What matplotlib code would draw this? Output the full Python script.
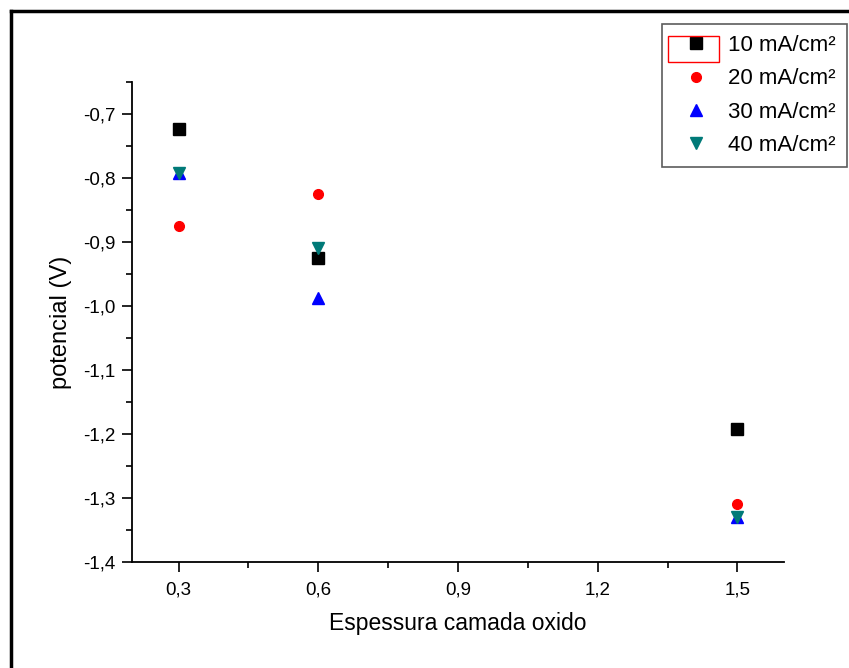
import numpy as np
import matplotlib
matplotlib.use("Agg")
import matplotlib.pyplot as plt
from matplotlib.ticker import MultipleLocator, FuncFormatter
from matplotlib.patches import Rectangle
from matplotlib.lines import Line2D

plt.rcParams['font.family'] = ['Liberation Sans', 'DejaVu Sans']

# espessura da camada de oxido
espessura = [0.3, 0.6, 1.5]
# potencial (V) para cada densidade de corrente
pot_10 = [-0.723, -0.925, -1.192]
pot_20 = [-0.875, -0.825, -1.309]
pot_30 = [-0.792, -0.987, -1.330]
pot_40 = [-0.792, -0.909, -1.330]
rotulos = ["10 mA/cm²", "20 mA/cm²", "30 mA/cm²", "40 mA/cm²"]

W, H = 849, 668
fig = plt.figure(figsize=(W/100, H/100), dpi=100)
ax = fig.add_axes([132/W, 1-562/H, (784-132)/W, (562-82)/H])

ax.plot(espessura, pot_10, 's', color='black', ms=8, label=rotulos[0], zorder=3)
ax.plot(espessura, pot_20, 'o', color='red', ms=7, label=rotulos[1], zorder=3)
ax.plot(espessura, pot_30, '^', color='blue', ms=8, label=rotulos[2], zorder=3)
ax.plot(espessura, pot_40, 'v', color='#007a78', ms=8, label=rotulos[3], zorder=4)

ax.set_xlim(0.2, 1.6)
ax.set_ylim(-1.4, -0.65)
ax.xaxis.set_major_locator(MultipleLocator(0.3))
ax.xaxis.set_minor_locator(MultipleLocator(0.15))
ax.yaxis.set_major_locator(MultipleLocator(0.1))
ax.yaxis.set_minor_locator(MultipleLocator(0.05))
virgula = FuncFormatter(lambda v, p: ("%.1f" % v).replace('.', ','))
ax.xaxis.set_major_formatter(virgula)
ax.yaxis.set_major_formatter(virgula)
ax.spines['top'].set_visible(False)
ax.spines['right'].set_visible(False)
for s in ['left', 'bottom']:
    ax.spines[s].set_linewidth(1.3)
ax.tick_params(which='major', direction='out', length=7, width=1.2, labelsize=13.5, pad=5)
ax.tick_params(axis='x', which='major', pad=7)
ax.tick_params(which='minor', direction='out', length=4, width=1.2)

ax.set_xlabel("Espessura camada oxido", fontsize=16.5, labelpad=10)
ax.set_ylabel("potencial (V)", fontsize=17, labelpad=8)

leg = ax.legend(loc='upper right', bbox_to_anchor=(847/W, 1-24/H), bbox_transform=fig.transFigure,
                fontsize=16, frameon=True, fancybox=False, edgecolor='#333333',
                borderpad=0.5, labelspacing=0.55, handletextpad=0.4, handlelength=2.1,
                borderaxespad=0)
leg.get_frame().set_linewidth(1.2)

# moldura da figura e marca vermelha da legenda
fig.add_artist(Line2D([11/W, 11/W], [0, 1-11/H], color='black', lw=2.5, transform=fig.transFigure))
fig.add_artist(Line2D([11/W, 1], [1-11/H, 1-11/H], color='black', lw=2.5, transform=fig.transFigure))
fig.add_artist(Rectangle((668/W, 1-62/H), 51/W, 26/H, fill=False, edgecolor='red', lw=1,
                         transform=fig.transFigure))

fig.savefig("out.png", dpi=100)
